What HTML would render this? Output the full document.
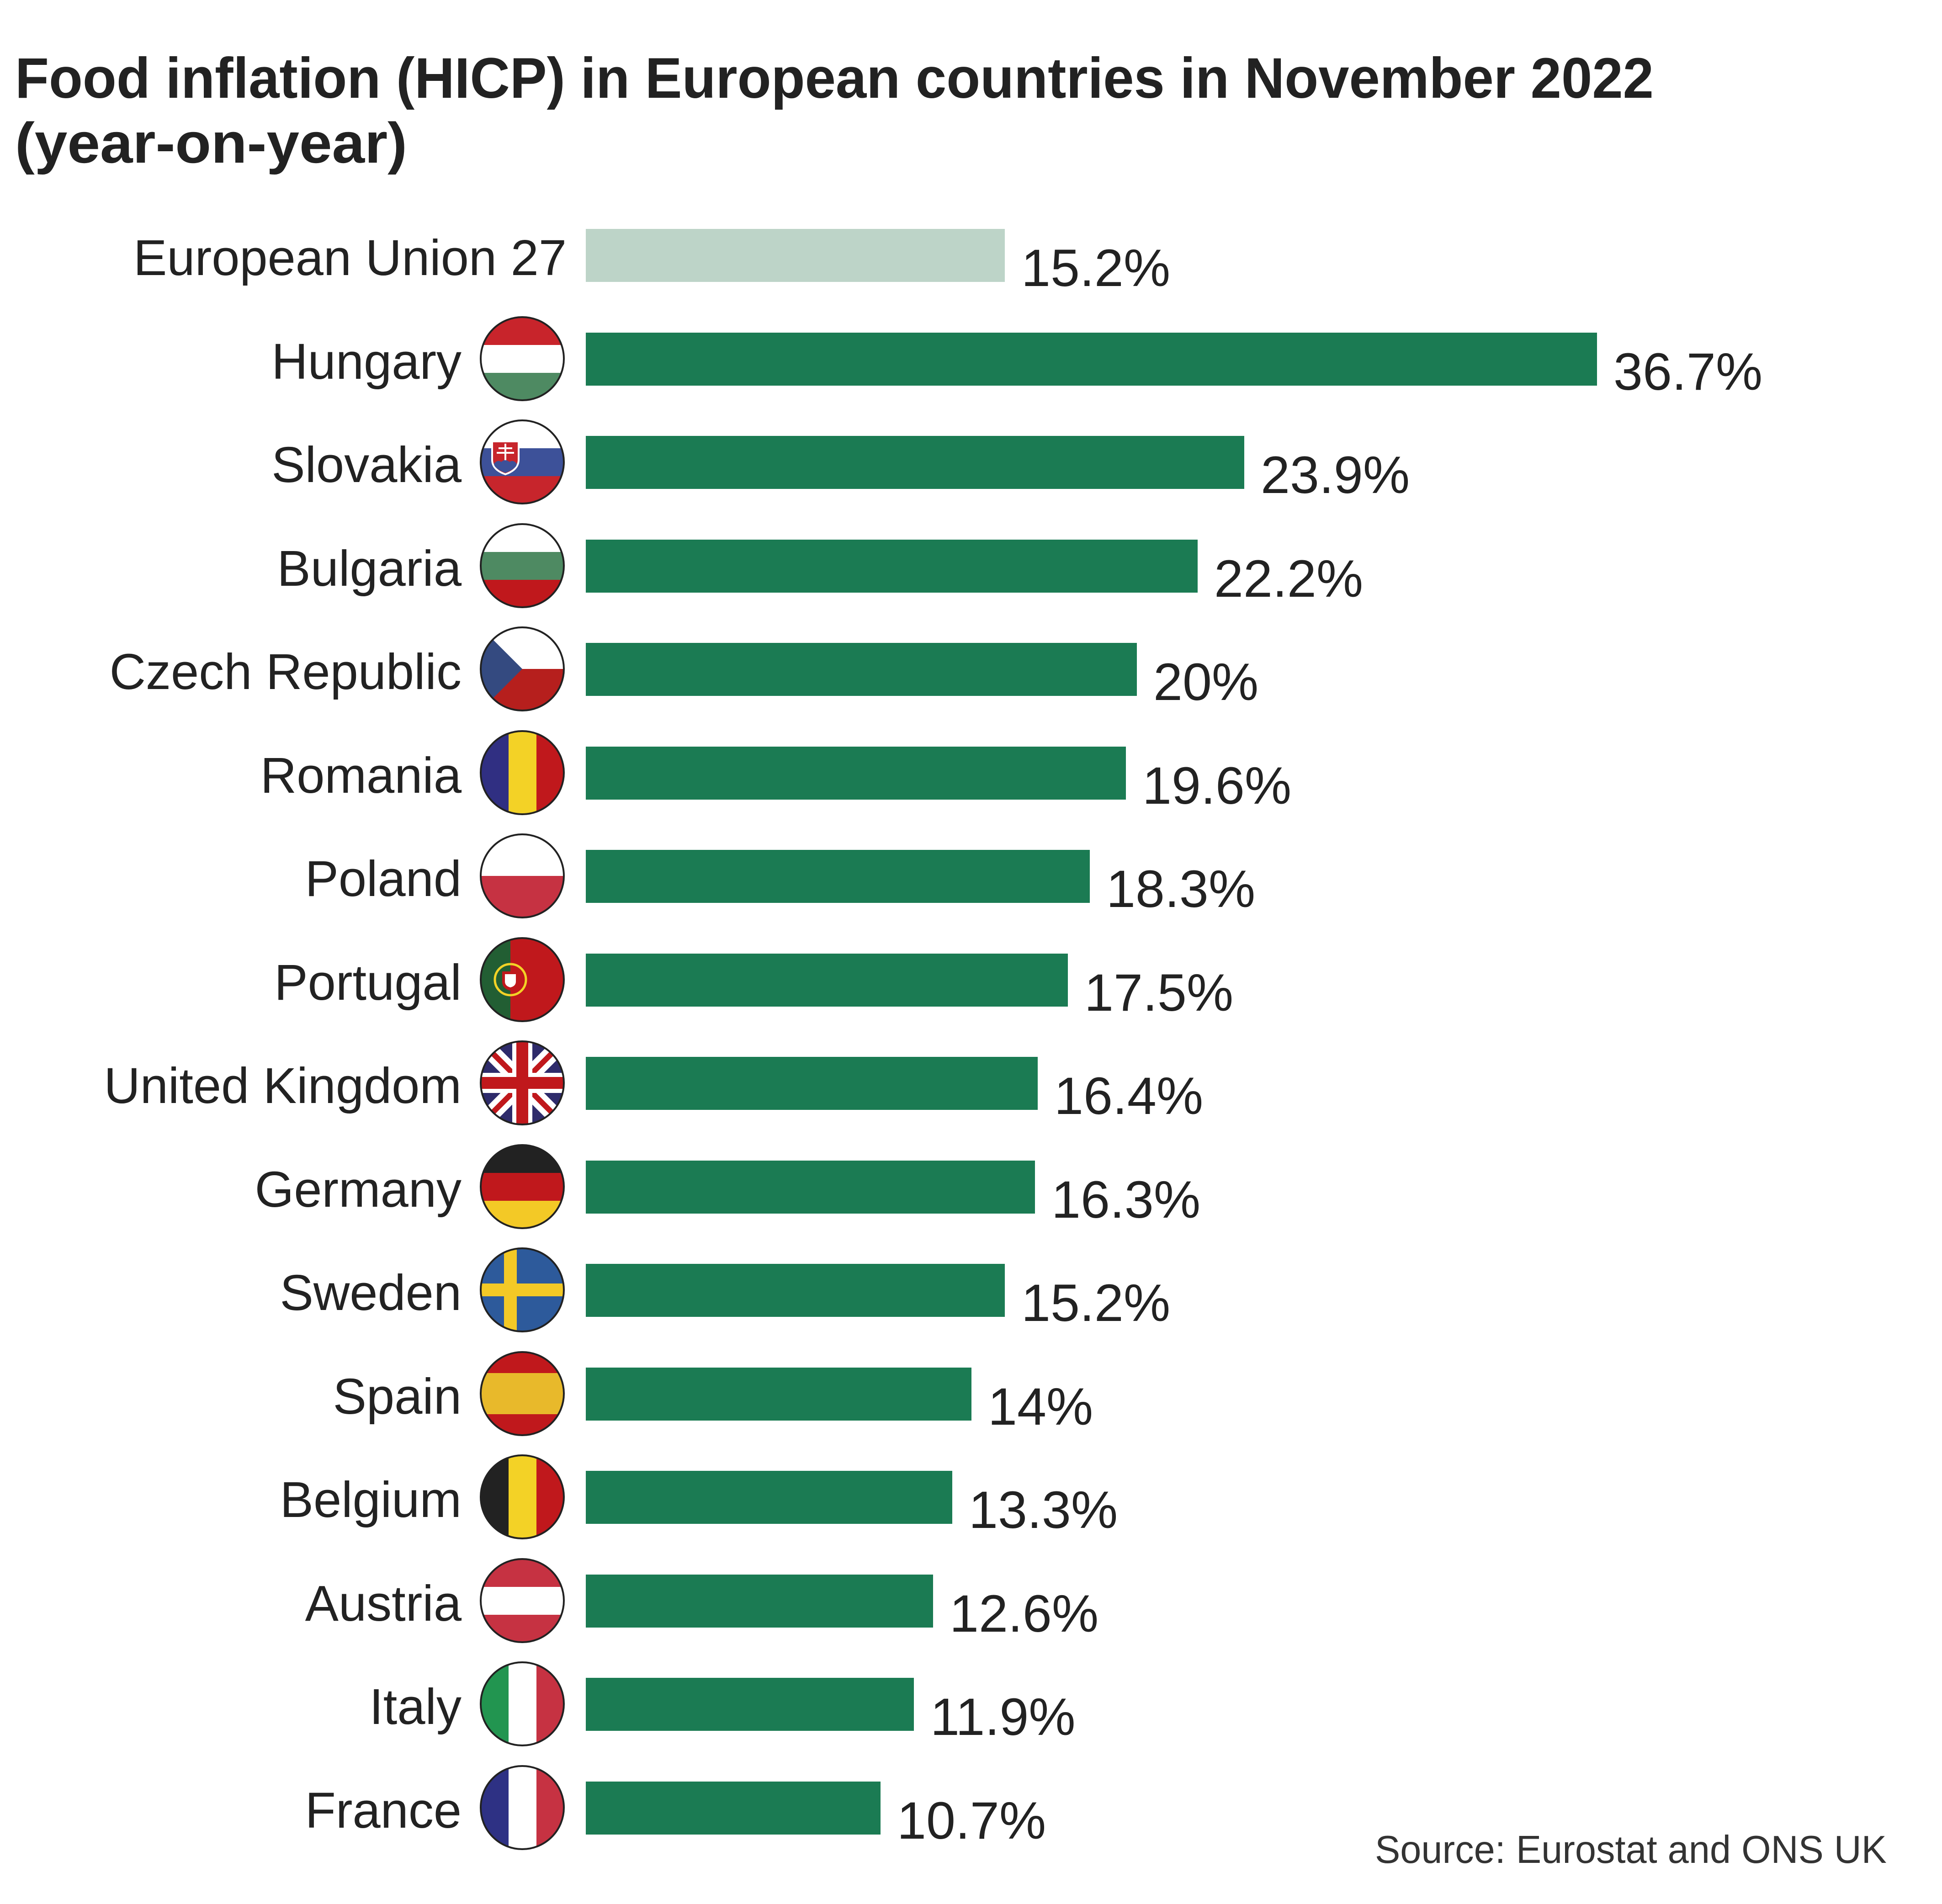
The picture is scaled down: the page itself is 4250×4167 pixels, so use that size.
<!DOCTYPE html>
<html><head><meta charset="utf-8"><style>html,body{margin:0;padding:0;background:#fff}svg{display:block}</style></head>
<body>
<svg width="4250" height="4167" viewBox="0 0 4250 4167" xmlns="http://www.w3.org/2000/svg" font-family="'Liberation Sans', sans-serif">
<defs><clipPath id="c"><circle cx="0" cy="0" r="91"/></clipPath></defs>
<text x="33" y="214" font-size="125" font-weight="bold" fill="#222" textLength="3586" lengthAdjust="spacingAndGlyphs">Food inflation (HICP) in European countries in November 2022</text>
<text x="33" y="356" font-size="125" font-weight="bold" fill="#222" textLength="858" lengthAdjust="spacingAndGlyphs">(year-on-year)</text>

<g font-size="110" fill="#222" text-anchor="end">
<text x="1240" y="602">European Union 27</text>
<text x="1010" y="829">Hungary</text>
<text x="1010" y="1055">Slovakia</text>
<text x="1010" y="1282">Bulgaria</text>
<text x="1010" y="1508">Czech Republic</text>
<text x="1010" y="1735">Romania</text>
<text x="1010" y="1961">Poland</text>
<text x="1010" y="2188">Portugal</text>
<text x="1010" y="2414">United Kingdom</text>
<text x="1010" y="2641">Germany</text>
<text x="1010" y="2867">Sweden</text>
<text x="1010" y="3094">Spain</text>
<text x="1010" y="3320">Belgium</text>
<text x="1010" y="3547">Austria</text>
<text x="1010" y="3773">Italy</text>
<text x="1010" y="4000">France</text>
</g>

<g>
<rect x="1282" y="501" width="917" height="116" fill="#bdd4c8"/>
<rect x="1282" y="728" width="2213" height="116" fill="#1b7b53"/>
<rect x="1282" y="954" width="1441" height="116" fill="#1b7b53"/>
<rect x="1282" y="1181" width="1339" height="116" fill="#1b7b53"/>
<rect x="1282" y="1407" width="1206" height="116" fill="#1b7b53"/>
<rect x="1282" y="1634" width="1182" height="116" fill="#1b7b53"/>
<rect x="1282" y="1860" width="1103" height="116" fill="#1b7b53"/>
<rect x="1282" y="2087" width="1055" height="116" fill="#1b7b53"/>
<rect x="1282" y="2313" width="989" height="116" fill="#1b7b53"/>
<rect x="1282" y="2540" width="983" height="116" fill="#1b7b53"/>
<rect x="1282" y="2766" width="917" height="116" fill="#1b7b53"/>
<rect x="1282" y="2993" width="844" height="116" fill="#1b7b53"/>
<rect x="1282" y="3219" width="802" height="116" fill="#1b7b53"/>
<rect x="1282" y="3446" width="760" height="116" fill="#1b7b53"/>
<rect x="1282" y="3672" width="718" height="116" fill="#1b7b53"/>
<rect x="1282" y="3899" width="645" height="116" fill="#1b7b53"/>
</g>

<g font-size="115" fill="#222">
<text x="2235" y="626">15.2%</text>
<text x="3531" y="853">36.7%</text>
<text x="2759" y="1079">23.9%</text>
<text x="2657" y="1306">22.2%</text>
<text x="2524" y="1532">20%</text>
<text x="2500" y="1759">19.6%</text>
<text x="2421" y="1985">18.3%</text>
<text x="2373" y="2212">17.5%</text>
<text x="2307" y="2438">16.4%</text>
<text x="2301" y="2665">16.3%</text>
<text x="2235" y="2891">15.2%</text>
<text x="2162" y="3118">14%</text>
<text x="2120" y="3344">13.3%</text>
<text x="2078" y="3571">12.6%</text>
<text x="2036" y="3797">11.9%</text>
<text x="1963" y="4024">10.7%</text>
</g>

<text x="4129" y="4077" font-size="85" fill="#333" text-anchor="end" textLength="1120" lengthAdjust="spacingAndGlyphs">Source: Eurostat and ONS UK</text>

<!-- Flags -->
<g transform="translate(1143,785)"><g clip-path="url(#c)"><rect x="-91" y="-91" width="182" height="61" fill="#c8242b"/><rect x="-91" y="-30" width="182" height="61" fill="#fff"/><rect x="-91" y="31" width="182" height="61" fill="#4e8a62"/></g><circle r="91" fill="none" stroke="#222" stroke-width="4"/></g>

<g transform="translate(1143,1011)"><g clip-path="url(#c)"><rect x="-91" y="-91" width="182" height="61" fill="#fff"/><rect x="-91" y="-30" width="182" height="61" fill="#3d5199"/><rect x="-91" y="31" width="182" height="61" fill="#c7252c"/><path d="M-66,-45 h58 v40 q0,22 -29,32 q-29,-10 -29,-32 z" fill="#c7252c" stroke="#fff" stroke-width="4"/><rect x="-39" y="-40" width="4" height="38" fill="#fff"/><rect x="-52" y="-32" width="30" height="4" fill="#fff"/><rect x="-56" y="-22" width="38" height="4" fill="#fff"/><path d="M-62,4 q8,-10 16,-4 q8,-8 18,0 q8,-6 16,4 q0,10 -25,20 q-25,-10 -25,-20z" fill="#3d5199"/></g><circle r="91" fill="none" stroke="#222" stroke-width="4"/></g>

<g transform="translate(1143,1238)"><g clip-path="url(#c)"><rect x="-91" y="-91" width="182" height="61" fill="#fff"/><rect x="-91" y="-30" width="182" height="61" fill="#4e8a62"/><rect x="-91" y="31" width="182" height="61" fill="#c0181c"/></g><circle r="91" fill="none" stroke="#222" stroke-width="4"/></g>

<g transform="translate(1143,1464)"><g clip-path="url(#c)"><rect x="-91" y="-91" width="182" height="91" fill="#fff"/><rect x="-91" y="0" width="182" height="92" fill="#b61f1d"/><path d="M-91,-91 L0,0 L-91,91 z" fill="#344a80"/></g><circle r="91" fill="none" stroke="#222" stroke-width="4"/></g>

<g transform="translate(1143,1691)"><g clip-path="url(#c)"><rect x="-91" y="-91" width="61" height="182" fill="#302f82"/><rect x="-30" y="-91" width="61" height="182" fill="#f3d226"/><rect x="31" y="-91" width="61" height="182" fill="#c0181c"/></g><circle r="91" fill="none" stroke="#222" stroke-width="4"/></g>

<g transform="translate(1143,1917)"><g clip-path="url(#c)"><rect x="-91" y="-91" width="182" height="91" fill="#fff"/><rect x="-91" y="0" width="182" height="92" fill="#c63242"/></g><circle r="91" fill="none" stroke="#222" stroke-width="4"/></g>

<g transform="translate(1143,2144)"><g clip-path="url(#c)"><rect x="-91" y="-91" width="182" height="182" fill="#c0181c"/><rect x="-91" y="-91" width="65" height="182" fill="#225e33"/><circle cx="-26" cy="0" r="34" fill="none" stroke="#f3d226" stroke-width="5"/><path d="M-44,-18 h36 v22 q0,16 -18,20 q-18,-4 -18,-20z" fill="#c0181c"/><path d="M-38,-12 h24 v16 q0,10 -12,13 q-12,-3 -12,-13z" fill="#fff"/></g><circle r="91" fill="none" stroke="#222" stroke-width="4"/></g>

<g transform="translate(1143,2370)"><g clip-path="url(#c)"><rect x="-91" y="-91" width="182" height="182" fill="#2e2b6b"/><path d="M-91,-91 L91,91 M91,-91 L-91,91" stroke="#fff" stroke-width="36"/><path d="M-91,-91 L91,91 M91,-91 L-91,91" stroke="#c0181c" stroke-width="12"/><rect x="-91" y="-22" width="182" height="44" fill="#fff"/><rect x="-22" y="-91" width="44" height="182" fill="#fff"/><rect x="-91" y="-13" width="182" height="26" fill="#c0181c"/><rect x="-13" y="-91" width="26" height="182" fill="#c0181c"/></g><circle r="91" fill="none" stroke="#222" stroke-width="4"/></g>

<g transform="translate(1143,2597)"><g clip-path="url(#c)"><rect x="-91" y="-91" width="182" height="61" fill="#222"/><rect x="-91" y="-30" width="182" height="61" fill="#c0181c"/><rect x="-91" y="31" width="182" height="61" fill="#f3c926"/></g><circle r="91" fill="none" stroke="#222" stroke-width="4"/></g>

<g transform="translate(1143,2823)"><g clip-path="url(#c)"><rect x="-91" y="-91" width="182" height="182" fill="#2d5a9b"/><rect x="-91" y="-14" width="182" height="28" fill="#f3c926"/><rect x="-40" y="-91" width="28" height="182" fill="#f3c926"/></g><circle r="91" fill="none" stroke="#222" stroke-width="4"/></g>

<g transform="translate(1143,3050)"><g clip-path="url(#c)"><rect x="-91" y="-91" width="182" height="182" fill="#c0181c"/><rect x="-91" y="-45" width="182" height="90" fill="#e8b92b"/></g><circle r="91" fill="none" stroke="#222" stroke-width="4"/></g>

<g transform="translate(1143,3276)"><g clip-path="url(#c)"><rect x="-91" y="-91" width="61" height="182" fill="#222"/><rect x="-30" y="-91" width="61" height="182" fill="#f3d226"/><rect x="31" y="-91" width="61" height="182" fill="#c0181c"/></g><circle r="91" fill="none" stroke="#222" stroke-width="4"/></g>

<g transform="translate(1143,3503)"><g clip-path="url(#c)"><rect x="-91" y="-91" width="182" height="61" fill="#c63242"/><rect x="-91" y="-30" width="182" height="61" fill="#fff"/><rect x="-91" y="31" width="182" height="61" fill="#c63242"/></g><circle r="91" fill="none" stroke="#222" stroke-width="4"/></g>

<g transform="translate(1143,3729)"><g clip-path="url(#c)"><rect x="-91" y="-91" width="61" height="182" fill="#229550"/><rect x="-30" y="-91" width="61" height="182" fill="#fff"/><rect x="31" y="-91" width="61" height="182" fill="#c63242"/></g><circle r="91" fill="none" stroke="#222" stroke-width="4"/></g>

<g transform="translate(1143,3956)"><g clip-path="url(#c)"><rect x="-91" y="-91" width="61" height="182" fill="#2e3184"/><rect x="-30" y="-91" width="61" height="182" fill="#fff"/><rect x="31" y="-91" width="61" height="182" fill="#c63242"/></g><circle r="91" fill="none" stroke="#222" stroke-width="4"/></g>
</svg>
</body></html>
